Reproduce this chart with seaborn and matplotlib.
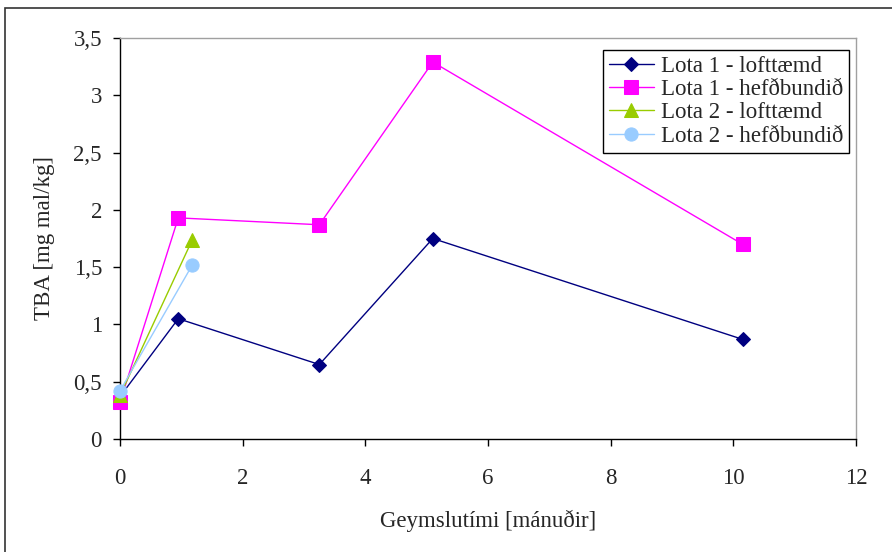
import matplotlib
matplotlib.use("Agg")
import matplotlib.pyplot as plt
import seaborn as sns
import pandas as pd
from matplotlib.patches import Rectangle
from matplotlib.ticker import FuncFormatter

# Storage time (months) and TBA values per batch / packaging
lota1_x = [0, 0.95, 3.25, 5.1, 10.15]
lota1_lofttaemd = [0.37, 1.05, 0.65, 1.75, 0.87]
lota1_hefdbundid = [0.32, 1.93, 1.87, 3.29, 1.70]
lota2_x = [0, 1.18]
lota2_lofttaemd = [0.38, 1.74]
lota2_hefdbundid = [0.42, 1.52]

series_names = ["Lota 1 - lofttæmd", "Lota 1 - hefðbundið",
                "Lota 2 - lofttæmd", "Lota 2 - hefðbundið"]
colors = ["#000080", "#FF00FF", "#99CC00", "#99CCFF"]
markers = ["D", "s", "^", "o"]
marker_sizes = [7, 9.5, 9.5, 9.5]

frames = []
for name, xs, ys in zip(series_names,
                        [lota1_x, lota1_x, lota2_x, lota2_x],
                        [lota1_lofttaemd, lota1_hefdbundid, lota2_lofttaemd, lota2_hefdbundid]):
    frames.append(pd.DataFrame({"x": xs, "y": ys, "series": name}))
df = pd.concat(frames, ignore_index=True)

sns.set_style("white")
plt.rcParams["font.family"] = ["Liberation Serif", "DejaVu Serif"]
FS = 16.5

fig = plt.figure(figsize=(8.92, 5.52), dpi=100)
ax = fig.add_axes([120 / 892, 1 - 439 / 552, 736 / 892, 401 / 552])

for name, col, mk, ms in zip(series_names, colors, markers, marker_sizes):
    sub = df[df["series"] == name]
    sns.lineplot(data=sub, x="x", y="y", ax=ax, color=col, marker=mk,
                 markersize=ms, markeredgecolor=col, linewidth=1.0,
                 label=name, sort=False, estimator=None, zorder=3,
                 clip_on=False)

ax.set_xlim(0, 12)
ax.set_ylim(0, 3.5)
ax.set_xticks(range(0, 13, 2))
ax.set_yticks([0, 0.5, 1, 1.5, 2, 2.5, 3, 3.5])
ax.yaxis.set_major_formatter(FuncFormatter(lambda v, p: f"{v:g}".replace(".", ",")))
ax.tick_params(axis="both", labelsize=FS, direction="out", length=5, width=1,
               color="black", left=True, bottom=True)
ax.tick_params(axis="x", pad=16)
ax.tick_params(axis="y", pad=8)

for s in ["left", "bottom"]:
    ax.spines[s].set_color("black")
    ax.spines[s].set_linewidth(1.0)
for s in ["top", "right"]:
    ax.spines[s].set_color("#A0A0A0")
    ax.spines[s].set_linewidth(1.0)
for sp in ax.spines.values():
    sp.set_visible(True)
    sp.set_zorder(1)

ax.set_xlabel("Geymslutími [mánuðir]", fontsize=FS, labelpad=15)
ax.set_ylabel("TBA [mg mal/kg]", fontsize=FS, labelpad=13)

leg = ax.legend(loc="upper right", bbox_to_anchor=(0.991, 0.97), fontsize=FS,
                frameon=True, fancybox=False, edgecolor="black", framealpha=1,
                handlelength=2.0, handletextpad=0.3, borderpad=0.25,
                labelspacing=0.1, borderaxespad=0)
leg.get_frame().set_linewidth(1.0)
leg.set_zorder(5)

# Outer chart frame
fig.patches.append(Rectangle((5 / 892, -0.05), 1.1, (552 - 8) / 552 + 0.05,
                             transform=fig.transFigure, fill=False,
                             edgecolor="#333333", linewidth=1.2))

fig.savefig("out.png", dpi=100)
